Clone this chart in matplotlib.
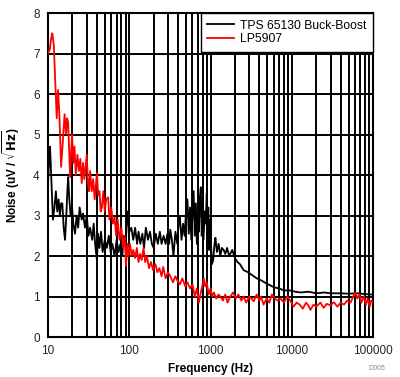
import matplotlib
matplotlib.use("Agg")
import matplotlib.pyplot as plt
from matplotlib.ticker import LogLocator, FixedLocator, NullFormatter

plt.rcParams["font.family"] = ["Liberation Sans", "DejaVu Sans"]

# LP5907 noise (uV/sqrt(Hz))
LP_FREQ = [10, 10.5, 11, 11.3, 11.8, 12.3, 12.8, 13.3, 13.8, 14.5, 15.2, 16, 16.7, 17.2, 17.7,
           18.2, 18.7, 19.3, 19.8, 20.5, 21.2, 22, 23, 24, 25, 26, 27, 28, 29, 30, 31, 32, 33,
           34.5, 36, 37.5, 39, 40, 41.5, 43, 44.5, 46, 48, 50, 52, 55, 57, 60, 63, 66, 69, 72,
           76, 80, 84, 88, 91, 95, 98, 102, 107, 112, 118, 124, 130, 136, 142, 150, 157, 165,
           175, 185, 197, 210, 222, 235, 250, 262, 280, 300, 320, 345, 370, 390, 420, 450, 490,
           520, 560, 600, 640, 680, 720, 760, 800, 830, 860, 900, 950, 1000, 1050, 1100, 1180,
           1250, 1330, 1420, 1520, 1620, 1750, 1900, 2050, 2200, 2400, 2550, 2750, 3000, 3200,
           3400, 3700, 4000, 4200, 4500, 4900, 5300, 5700, 6200, 6700, 7300, 8000, 8800, 9600,
           10500, 11500, 12500, 13700, 15000, 16000, 17000, 18500, 20000, 22500, 24700, 27000,
           30000, 33000, 36500, 40000, 44000, 48000, 53000, 57000, 61000, 64000, 68000, 72000,
           77000, 82000, 86000, 91000, 95000, 100000]
LP_NOISE = [7.0, 7.1, 7.4, 7.5, 7.2, 6.3, 5.4, 6.1, 5.5, 4.2, 4.8, 5.5, 5.0, 5.4, 5.3,
            4.6, 3.95, 4.6, 5.0, 4.3, 4.7, 4.0, 4.5, 4.1, 4.4, 3.8, 4.3, 3.9, 4.2, 4.5, 3.8, 3.6, 4.1,
            3.6, 3.9, 3.4, 3.8, 4.05, 3.5, 3.6, 3.1, 3.2, 3.6, 3.1, 3.4, 3.45, 2.9, 3.2, 2.8, 2.95, 2.5, 2.9,
            2.4, 2.7, 2.2, 2.5, 1.75, 2.3, 2.0, 2.3, 2.0, 2.15, 1.95, 2.2, 1.85, 2.05, 1.9, 2.2, 1.85, 2.0,
            1.7, 1.85, 1.65, 1.8, 1.6, 1.7, 1.5, 1.73, 1.45, 1.6, 1.5, 1.35, 1.5, 1.4, 1.3, 1.45, 1.25,
            1.35, 1.2, 1.3, 1.0, 1.2, 0.85, 1.1, 1.3, 1.45, 1.25, 1.35, 1.05, 1.2, 1.0, 1.1, 0.95,
            1.05, 1.0, 0.9, 1.05, 0.85, 1.0, 1.1, 0.95, 1.05, 0.9, 1.0, 0.85, 1.0, 0.95,
            0.88, 1.05, 0.9, 1.0, 0.8, 0.95, 0.85, 1.05, 0.95, 0.9, 0.95, 0.85, 1.0, 0.9,
            0.75, 0.85, 0.8, 0.7, 0.85, 0.78, 0.67, 0.8, 0.75, 0.85, 0.72, 0.82,
            0.78, 0.86, 0.75, 0.85, 0.8, 0.9, 0.85, 1.0, 1.1, 0.95, 1.05, 0.85,
            1.0, 0.8, 0.95, 0.75, 0.9, 0.85]

# TPS 65130 Buck-Boost noise
TPS_FREQ = [10, 10.3, 10.6, 11, 11.5, 12, 12.5, 13, 13.5, 14, 14.5, 15, 15.6, 16.2, 16.8, 17.3,
            17.7, 18.3, 19, 19.8, 20.5, 21.5, 22.5, 23.5, 24.5, 26, 27, 28.5, 30, 31.5, 33, 35,
            36.5, 38, 40, 41.5, 43, 45, 47, 50, 53, 56, 59, 62, 66, 70, 74, 78, 82, 86, 90, 95,
            100, 106, 112, 118, 125, 130, 137, 145, 152, 160, 170, 180, 190, 200, 212, 225, 238,
            250, 265, 280, 295, 310, 320, 335, 350, 370, 390, 405, 420, 440, 460, 480, 500, 520,
            540, 560, 580, 600, 620, 640, 660, 680, 700, 720, 740, 760, 780, 800, 820, 850, 870,
            900, 920, 940, 960, 980, 1000, 1040, 1080, 1120, 1150, 1200, 1260, 1320, 1380, 1450,
            1520, 1600, 1700, 1850, 2000, 2150, 2300, 2560, 2900, 3300, 3700, 4200, 4800, 5400,
            6000, 7000, 8000, 9500, 11000, 13000, 16000, 20000, 25000, 30000, 40000, 50000,
            65000, 80000, 100000]
TPS_NOISE = [3.8, 4.3, 4.7, 3.9, 2.9, 3.2, 3.6, 3.1, 3.4, 3.0, 3.3, 3.3, 2.7, 2.4, 3.0, 3.6,
             3.95, 3.4, 3.0, 3.2, 2.8, 2.55, 3.0, 2.7, 3.2, 2.9, 3.05, 2.7, 3.0, 2.5, 2.7, 2.4,
             2.8, 2.3, 1.9, 2.55, 2.2, 2.6, 2.1, 2.4, 2.2, 2.5, 2.1, 2.3, 2.0, 2.4, 2.1, 2.3, 2.0, 2.5, 2.2, 3.1,
             2.6, 2.7, 2.4, 2.7, 2.3, 2.6, 2.3, 2.55, 2.2, 2.7, 2.4, 2.6, 2.3, 2.2, 2.55, 2.3, 2.6,
             2.3, 2.5, 2.3, 2.55, 2.3, 2.65, 2.4, 2.0, 2.6, 2.3, 2.8, 2.95, 2.4, 2.8, 2.5, 3.1, 3.4,
             2.55, 3.2, 2.4, 3.0, 3.6, 2.5, 3.3, 2.3, 3.0, 2.6, 3.45, 3.7, 2.5, 3.3, 2.4, 3.1, 2.8,
             3.55, 2.5, 3.2, 2.15, 2.9, 2.6, 1.8, 1.9, 2.3, 2.45, 2.1, 2.3, 2.0, 2.2, 2.15,
             2.05, 2.2, 2.0, 2.15, 1.95, 1.85, 1.8, 1.65, 1.6, 1.52, 1.45, 1.4, 1.33, 1.28,
             1.23, 1.2, 1.15, 1.15, 1.12, 1.1, 1.12, 1.08, 1.1, 1.08, 1.08, 1.07,
             1.08, 1.06, 1.05]

X_TICKS = [10, 100, 1000, 10000, 100000]
Y_TICKS = [0, 1, 2, 3, 4, 5, 6, 7, 8]

fig = plt.figure(figsize=(4.0, 3.77), dpi=100, facecolor="white")
ax = fig.add_axes([0.12, 0.106, 0.8125, 0.8595])

ax.plot(TPS_FREQ, TPS_NOISE, color="black", linewidth=1.3, label="TPS 65130 Buck-Boost", zorder=3)
ax.plot(LP_FREQ, LP_NOISE, color="#FF0000", linewidth=1.3, label="LP5907", zorder=4)

ax.set_xscale("log")
ax.set_xlim(10, 100000)
ax.set_ylim(0, 8)
ax.xaxis.set_major_locator(FixedLocator(X_TICKS))
ax.set_xticklabels([str(t) for t in X_TICKS])
ax.xaxis.set_minor_locator(LogLocator(base=10, subs=range(2, 10), numticks=20))
ax.xaxis.set_minor_formatter(NullFormatter())
ax.set_yticks(Y_TICKS)
ax.grid(which="both", axis="x", color="black", linewidth=1.4)
ax.grid(which="major", axis="y", color="black", linewidth=1.4)
ax.tick_params(which="both", length=0, labelsize=8.5, colors="#222222", pad=6)
for spine in ax.spines.values():
    spine.set_linewidth(1.5)

ax.set_xlabel("Frequency (Hz)", fontsize=8.5, fontweight="bold", labelpad=4)
ax.set_ylabel(r"Noise (uV / $\sqrt{\mathbf{Hz}}$)", fontsize=8.5, fontweight="bold", labelpad=8)

leg = ax.legend(loc="upper right", fontsize=8.7, frameon=True, fancybox=False,
                handlelength=2.2, handletextpad=0.5, borderaxespad=0.0, borderpad=0.55,
                labelspacing=0.1)
leg.get_frame().set_edgecolor("black")
leg.get_frame().set_linewidth(1.0)
leg.get_frame().set_alpha(1)

fig.text(0.962, 0.018, "D005", fontsize=5, color="#888888", ha="right")

fig.savefig("out.png", dpi=100, facecolor="white")
